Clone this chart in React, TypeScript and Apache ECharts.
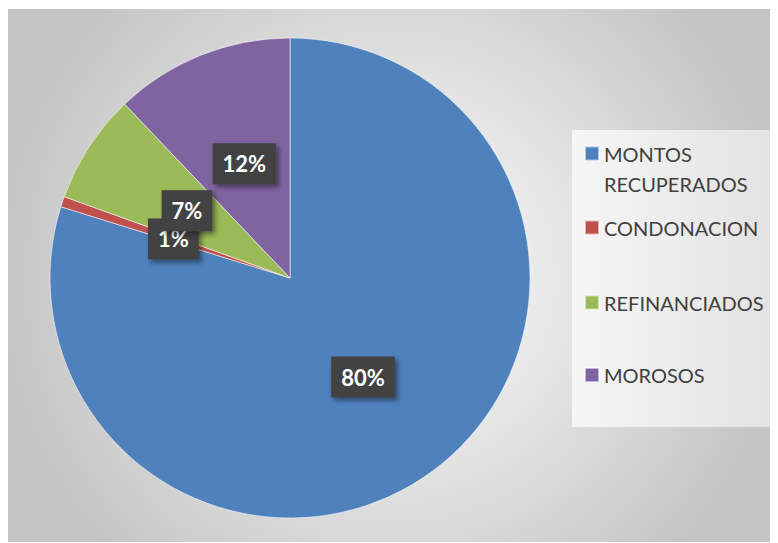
import React, { useEffect, useRef } from "react";
import * as echarts from "echarts";

const categories = ["MONTOS RECUPERADOS", "CONDONACION", "REFINANCIADOS", "MOROSOS"];
const values = [79.8, 0.7, 7.4, 12.1];
const colors = ["#4f81bd", "#c0504d", "#9bbb59", "#8064a2"];
const legendTexts = ["\nMONTOS\nRECUPERADOS", "CONDONACION", "REFINANCIADOS", "MOROSOS"];
const legendIconCenters = [144.5, 218.5, 293.5, 366];

export default function App() {
  const ref = useRef<HTMLDivElement>(null);
  useEffect(() => {
    if (!ref.current) return;
    const chart = echarts.init(ref.current, undefined, { renderer: "svg" });
    const legends = categories.map((name, i) => {
      const multi = legendTexts[i].split("\n").length;
      const lh = multi > 1 ? 30 : 24;
      const blockH = multi > 1 ? lh * multi : lh;
      return {
        show: true,
        orient: "vertical",
        left: 576,
        top: legendIconCenters[i] - blockH / 2,
        padding: 0,
        itemWidth: 14,
        itemHeight: 14,
        icon: "rect",
        data: [name],
        formatter: () => legendTexts[i],
        textStyle: {
          fontFamily: "Lato",
          fontSize: 20,
          color: "#404040",
          lineHeight: lh,
        },
        selectedMode: false,
      };
    });
    chart.setOption({
      animation: false,
      color: colors,
      graphic: [
        {
          type: "rect",
          shape: { x: 564, y: 121, width: 204, height: 297 },
          style: {
            fill: new echarts.graphic.LinearGradient(0, 0, 1, 0, [
              { offset: 0, color: "#f6f6f6" },
              { offset: 1, color: "#e2e2e2" },
            ]),
          },
          z: -10,
          silent: true,
        },
      ],
      legend: legends,
      series: [
        {
          type: "pie",
          center: [282, 269],
          radius: [0, 240],
          startAngle: 90,
          clockwise: true,
          minShowLabelAngle: 0,
          avoidLabelOverlap: false,
          labelLayout: { hideOverlap: false },
          data: categories.map((n, i) => ({ name: n, value: values[i] })),
          itemStyle: { borderColor: "rgba(255,255,255,0.55)", borderWidth: 1 },
          labelLine: { show: false },
          emphasis: { disabled: true },
          label: {
            show: true,
            position: "inside",
            formatter: (p: any) => Math.round(p.percent) + "%",
            fontFamily: "Lato",
            fontWeight: "bold",
            fontSize: 22,
            lineHeight: 22,
            color: "#ffffff",
            backgroundColor: "#424242",
            padding: [10, 10, 9, 10],
            shadowColor: "rgba(0,0,0,0.45)",
            shadowBlur: 5,
            shadowOffsetX: 3,
            shadowOffsetY: 3,
          },
        },
      ],
    });
    return () => chart.dispose();
  }, []);
  return (
    <div
      ref={ref}
      style={{
        position: "relative",
        top: 1,
        width: 770,
        height: 534,
        background:
          "radial-gradient(circle 400px at 385px 268px, #ffffff 0%, #c4c4c4 100%)",
      }}
    />
  );
}
